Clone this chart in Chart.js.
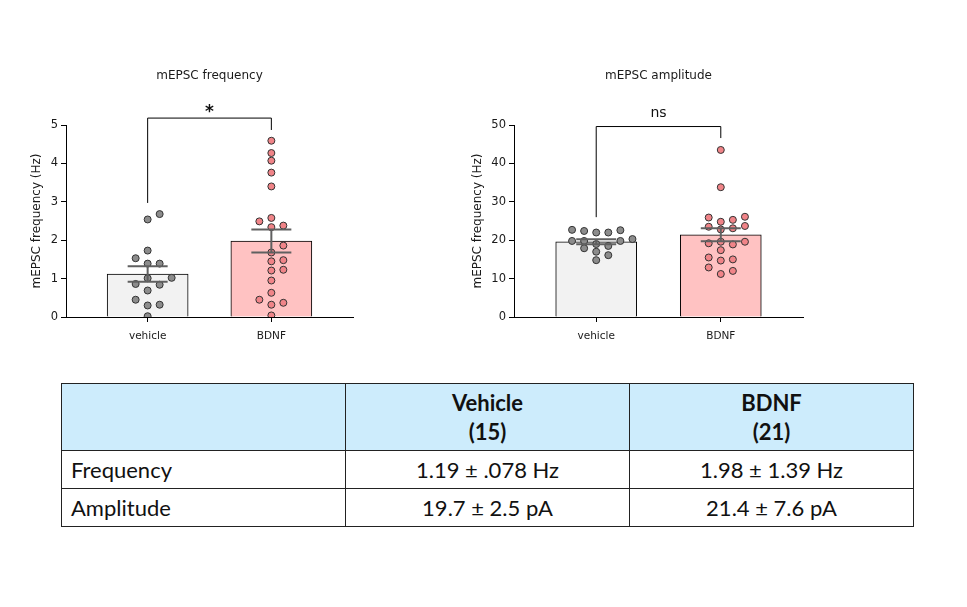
<!DOCTYPE html>
<html>
<head>
<meta charset="utf-8">
<script src="https://cdn.jsdelivr.net/npm/chart.js@4.4.1/dist/chart.umd.min.js"></script>
<style>
    body { margin: 0; background: #fff; width: 967px; height: 607px; position: relative; overflow: hidden; }
    .chart-box { position: absolute; top: 50px; width: 380px; height: 310px; }
    #freq-box { left: 0; }
    #amp-box { left: 440px; }
    #stats { position: absolute; left: 61px; top: 383px; width: 853px; border-collapse: collapse; table-layout: fixed;
             font-family: Lato, sans-serif; font-size: 22px; color: #111; }
    #stats td, #stats th { border: 1px solid #222; text-align: center; padding: 0; }
    #stats th { background: #cdecfc; height: 66px; line-height: 29px; font-weight: bold; }
    #stats td { height: 37px; }
    #stats td.name { text-align: left; padding-left: 9px; }
</style>
</head>
<body>
<div class="chart-box" id="freq-box"><canvas id="freq-chart"></canvas></div>
<div class="chart-box" id="amp-box"><canvas id="amp-chart"></canvas></div>
<table id="stats"></table>

<script>
// --- data ---
const groups = ['vehicle', 'BDNF'];

const freqVehicle = [0.02, 0.30, 0.32, 0.45, 0.69, 0.84, 0.86, 1.01, 1.02, 1.39, 1.39, 1.53, 1.73, 2.54, 2.68];
const freqBDNF = [0.04, 0.32, 0.37, 0.45, 0.63, 0.95, 1.21, 1.23, 1.45, 1.48, 1.68, 1.86, 2.34, 2.38, 2.49, 2.58, 3.40, 3.76, 4.07, 4.27, 4.59];
const freqMean = [1.12, 1.98];
const freqSem = [0.20, 0.30];
const freqTicks = [0, 1, 2, 3, 4, 5];
const freqBracket = [2.97, 5.18, 4.87];   // left leg end, top, right leg end

const ampVehicle = [14.8, 16.1, 17.0, 17.9, 18.5, 19.0, 19.8, 19.8, 19.8, 20.3, 22.0, 22.0, 22.4, 22.6, 22.7];
const ampBDNF = [11.2, 12.0, 12.9, 14.7, 15.0, 15.5, 17.4, 18.9, 19.2, 19.6, 19.6, 22.8, 23.1, 23.5, 23.7, 24.8, 25.3, 25.9, 26.1, 33.8, 43.5];
const ampMean = [19.6, 21.4];
const ampSem = [0.65, 1.7];
const ampTicks = [0, 10, 20, 30, 40, 50];
const ampBracket = [26.0, 49.6, 46.6];

const sigLabels = ['*', 'ns'];

const tableGroups = ['Vehicle', 'BDNF'];
const tableN = [15, 21];
const tableRows = ['Frequency', 'Amplitude'];
const tableCells = [
    ['1.19 ± .078 Hz', '1.98 ± 1.39 Hz'],
    ['19.7 ± 2.5 pA', '21.4 ± 7.6 pA']
];

// --- table ---
const table = document.getElementById('stats');
let html = '<tr><th></th>' + tableGroups.map((g, i) => `<th>${g}<br>(${tableN[i]})</th>`).join('') + '</tr>';
tableRows.forEach((name, r) => {
    html += `<tr><td class="name">${name}</td>` + tableCells[r].map(c => `<td>${c}</td>`).join('') + '</tr>';
});
table.innerHTML = html;

// --- charts ---
Chart.defaults.font.family = "'DejaVu Sans', sans-serif";
Chart.defaults.color = '#1a1a1a';

// simple beeswarm: each point takes the nearest free lane (0, +1, -1, +2, ...)
function swarm(values, center, pxPerY) {
    const laneStep = 0.097;   // x units (~12px)
    const lanePx = 12;
    const dot = 7;
    const placed = [];
    [...values].sort((a, b) => a - b).forEach(v => {
        const py = v * pxPerY;
        for (let k = 0; k < 20; k++) {
            const lane = k === 0 ? 0 : (k % 2 ? (k + 1) / 2 : -k / 2);
            const hit = placed.some(p => Math.hypot((p.lane - lane) * lanePx, p.py - py) < dot);
            if (!hit) { placed.push({lane, py, v}); break; }
        }
    });
    return placed.map(p => ({x: center + p.lane * laneStep, y: p.v}));
}

const annotate = {
    id: 'annotate',
    afterDatasetsDraw(chart, args, opts) {
        const {ctx, scales: {x, y}} = chart;
        ctx.save();
        // error bars (mean ± SEM)
        ctx.strokeStyle = '#606060';
        ctx.lineWidth = 2;
        opts.means.forEach((m, i) => {
            const cx = x.getPixelForValue(i);
            const top = y.getPixelForValue(m + opts.sems[i]);
            const bot = y.getPixelForValue(m - opts.sems[i]);
            ctx.beginPath();
            ctx.moveTo(cx, top); ctx.lineTo(cx, bot);
            ctx.moveTo(cx - 20, top); ctx.lineTo(cx + 20, top);
            ctx.moveTo(cx - 20, bot); ctx.lineTo(cx + 20, bot);
            ctx.stroke();
        });
        // significance bracket
        const [legL, topV, legR] = opts.bracket;
        const x0 = x.getPixelForValue(0), x1 = x.getPixelForValue(1);
        const yt = y.getPixelForValue(topV);
        ctx.strokeStyle = '#000';
        ctx.lineWidth = 1;
        ctx.beginPath();
        ctx.moveTo(x0, y.getPixelForValue(legL));
        ctx.lineTo(x0, yt);
        ctx.lineTo(x1, yt);
        ctx.lineTo(x1, y.getPixelForValue(legR));
        ctx.stroke();
        ctx.fillStyle = '#111';
        ctx.font = opts.labelFont;
        ctx.textAlign = 'center';
        ctx.textBaseline = 'alphabetic';
        ctx.fillText(opts.label, (x0 + x1) / 2, yt - opts.labelGap);
        ctx.restore();
    }
};

function makeChart(id, title, vehicle, bdnf, means, sems, ticks, bracket, label, opt) {
    const yMax = ticks[ticks.length - 1];
    const pxPerY = 192 / yMax;
    new Chart(document.getElementById(id), {
        type: 'bar',
        data: {
            datasets: [{
                type: 'bar',
                data: means.map((m, i) => ({x: i, y: m})),
                backgroundColor: ['#f2f2f2', '#ffc2c2'],
                borderColor: '#000',
                borderWidth: 1,
                barThickness: 81,
                order: 2
            }, {
                type: 'scatter',
                data: swarm(vehicle, 0, pxPerY),
                backgroundColor: '#8c8c8c',
                borderColor: '#333',
                borderWidth: 1,
                pointRadius: 3.5,
                order: 1
            }, {
                type: 'scatter',
                data: swarm(bdnf, 1, pxPerY),
                backgroundColor: '#f08488',
                borderColor: '#333',
                borderWidth: 1,
                pointRadius: 3.5,
                order: 1
            }]
        },
        options: {
            responsive: true,
            maintainAspectRatio: false,
            animation: false,
            events: [],
            layout: { padding: { left: 0, right: opt.right, top: 0, bottom: 0 } },
            scales: {
                x: {
                    type: 'linear',
                    offset: false,
                    min: -0.66,
                    max: 1.66,
                    afterBuildTicks: axis => { axis.ticks = groups.map((g, i) => ({value: i})); },
                    afterFit: axis => { axis.height = 43; },
                    ticks: {
                        callback: v => groups[v],
                        font: { size: 10.5 },
                        padding: 8
                    },
                    grid: { drawOnChartArea: false, drawTicks: true, tickLength: 5, color: '#000', offset: false },
                    border: { color: '#000', width: 1 }
                },
                y: {
                    min: 0,
                    max: yMax,
                    afterBuildTicks: axis => { axis.ticks = ticks.map(v => ({value: v})); },
                    afterFit: axis => { axis.width = opt.yWidth; },
                    ticks: { font: { size: 11.5 }, padding: 3 },
                    grid: { drawOnChartArea: false, drawTicks: true, tickLength: 5, color: '#000' },
                    border: { color: '#000', width: 1 },
                    title: {
                        display: true,
                        text: 'mEPSC frequency (Hz)',
                        font: { size: 12 },
                        padding: { top: opt.titlePad, bottom: 0 }
                    }
                }
            },
            plugins: {
                legend: { display: false },
                tooltip: { enabled: false },
                title: {
                    display: true,
                    text: title,
                    fullSize: false,
                    font: { size: 12, weight: 'normal' },
                    padding: { top: 19, bottom: 41.6 }
                },
                annotate: {
                    means, sems, bracket, label,
                    labelFont: opt.labelFont,
                    labelGap: opt.labelGap
                }
            }
        },
        plugins: [annotate]
    });
}

makeChart('freq-chart', 'mEPSC frequency', freqVehicle, freqBDNF, freqMean, freqSem, freqTicks, freqBracket, sigLabels[0],
    { right: 27, yWidth: 66, titlePad: 30, labelFont: "bold 17px 'DejaVu Sans'", labelGap: 1 });
makeChart('amp-chart', 'mEPSC amplitude', ampVehicle, ampBDNF, ampMean, ampSem, ampTicks, ampBracket, sigLabels[1],
    { right: 17, yWidth: 74, titlePad: 31, labelFont: "14px 'DejaVu Sans'", labelGap: 10 });
</script>
</body>
</html>
